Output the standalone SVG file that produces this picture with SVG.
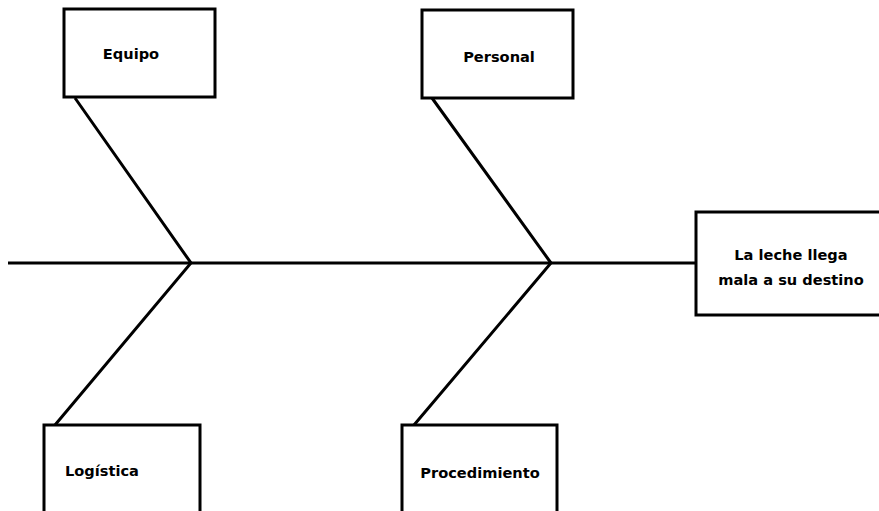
<svg xmlns="http://www.w3.org/2000/svg" width="879" height="511" viewBox="0 0 879 511">
<style>
.box{fill:#fff;stroke:#000;stroke-width:3}
.ln{stroke:#000;stroke-width:3;fill:none}
text{font-family:"DejaVu Sans","Open Sans",sans-serif;font-weight:700;font-size:14.6px;fill:#000;text-anchor:middle}
</style>
<rect width="879" height="511" fill="#fff"/>
<g id="connectors">
<line class="ln" x1="8" y1="263" x2="696" y2="263"/>
<polyline class="ln" points="75,98 191,263 55,425"/>
<polyline class="ln" points="432,98 551,263 414,425"/>
</g>
<g id="equipo"><rect class="box" x="64" y="9" width="151" height="88"/><text x="131" y="59">Equipo</text></g>
<g id="personal"><rect class="box" x="422" y="10" width="151" height="88"/><text x="499" y="62">Personal</text></g>
<g id="problema"><rect class="box" x="696" y="212" width="200" height="103"/><text x="791" y="260">La leche llega</text><text x="791" y="285">mala a su destino</text></g>
<g id="logistica"><rect class="box" x="44" y="425" width="156" height="100"/><text x="102" y="476">Logística</text></g>
<g id="procedimiento"><rect class="box" x="402" y="425" width="155" height="100"/><text x="480" y="478">Procedimiento</text></g>
</svg>
